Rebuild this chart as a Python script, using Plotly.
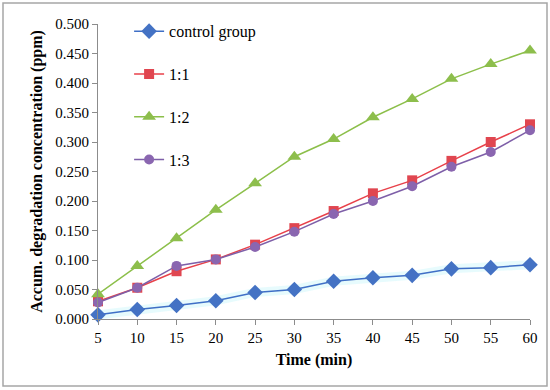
import plotly.graph_objects as go

time_min = [5, 10, 15, 20, 25, 30, 35, 40, 45, 50, 55, 60]
control_group = [0.007, 0.016, 0.023, 0.031, 0.045, 0.050, 0.064, 0.070, 0.074, 0.085, 0.087, 0.092]
ratio_1_1 = [0.030, 0.053, 0.081, 0.101, 0.126, 0.154, 0.183, 0.213, 0.235, 0.268, 0.300, 0.330]
ratio_1_2 = [0.042, 0.090, 0.137, 0.185, 0.230, 0.275, 0.305, 0.342, 0.373, 0.407, 0.432, 0.455]
ratio_1_3 = [0.028, 0.053, 0.090, 0.101, 0.122, 0.148, 0.178, 0.200, 0.225, 0.258, 0.283, 0.320]
y_ticks = [0.0, 0.05, 0.1, 0.15, 0.2, 0.25, 0.3, 0.35, 0.4, 0.45, 0.5]

FONT = "Liberation Serif"

fig = go.Figure()

# soft glow behind control line
fig.add_trace(go.Scatter(x=time_min, y=control_group, mode="lines",
                         line=dict(color="rgba(120,235,245,0.18)", width=9),
                         showlegend=False, hoverinfo="skip", cliponaxis=False))

series = [
    ("control group", control_group, "#3F6FC6", "#4472C4", "diamond", 12),
    ("1:1", ratio_1_1, "#E8414A", "#E04650", "square", 10),
    ("1:2", ratio_1_2, "#8CBF4A", "#8DBE4C", "triangle-up", 12),
    ("1:3", ratio_1_3, "#7E5FA8", "#8A66B0", "circle", 10),
]
for i, (name, vals, lc, mc, sym, sz) in enumerate(series):
    fig.add_trace(go.Scatter(
        x=time_min, y=vals, mode="lines+markers",
        name=f"<span style='font-family:\"Liberation Serif\", serif'>{name}</span>",
        legendgroup=f"g{i}",
        line=dict(color=lc, width=1.5),
        marker=dict(symbol=sym, size=sz, color=mc, line=dict(width=0)),
        cliponaxis=False,
    ))

fig.update_layout(
    width=550, height=390,
    margin=dict(l=98, r=20, t=24, b=71),
    paper_bgcolor="white", plot_bgcolor="white",
    font=dict(family=FONT, size=15, color="black"),
    showlegend=True,
    legend=dict(x=0.072, y=1.033, xanchor="left", yanchor="top",
                bgcolor="rgba(0,0,0,0)", tracegroupgap=19, itemwidth=30,
                font=dict(family=FONT, size=16)),
    xaxis=dict(range=[5, 60], tickvals=time_min, showgrid=False, zeroline=False,
               showline=True, linecolor="#8C8C8C", linewidth=1,
               ticks="outside", ticklen=5, tickcolor="#8C8C8C",
               title=dict(text="<b>Time (min)</b>", font=dict(family=FONT, size=16), standoff=8)),
    yaxis=dict(range=[0, 0.5], tickvals=y_ticks, tickformat=".3f", showgrid=False,
               zeroline=False, showline=True, linecolor="#8C8C8C", linewidth=1,
               ticks="outside", ticklen=5, tickcolor="#8C8C8C",
               title=dict(text="<b>Accum. degradation concentration (ppm)</b>",
                          font=dict(family=FONT, size=16), standoff=8)),
    shapes=[dict(type="rect", xref="paper", yref="paper",
                 x0=(3 - 98) / 432, x1=(547 - 98) / 432,
                 y0=(319 - 386) / 295, y1=(319 - 3) / 295,
                 line=dict(color="#A6A6A6", width=1.5), layer="above")],
)

fig.write_html("out.html", config={"displayModeBar": False},
               post_script="document.body.style.margin='0px';document.body.style.overflow='hidden';")
